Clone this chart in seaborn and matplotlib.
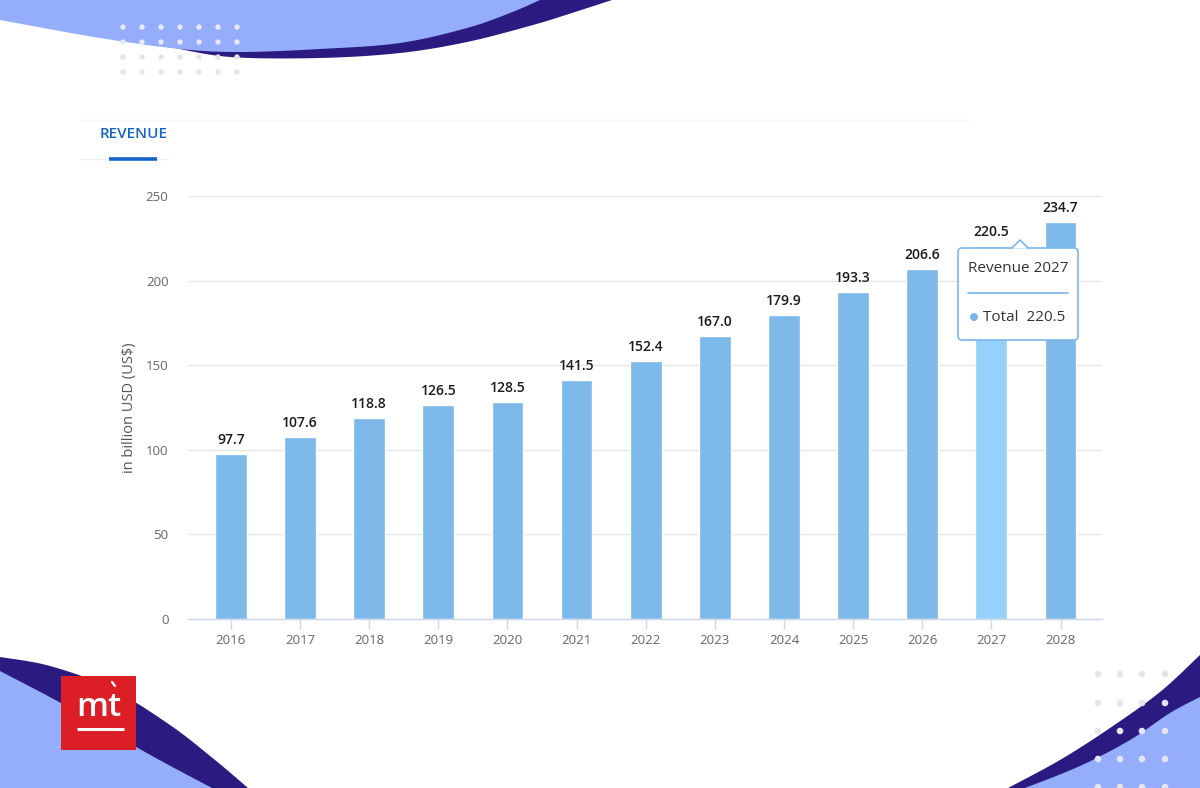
import numpy as np
import pandas as pd
import matplotlib
matplotlib.use("Agg")
import matplotlib.pyplot as plt
import seaborn as sns
from matplotlib.patches import Polygon, FancyBboxPatch, Rectangle, Circle

years = ["2016", "2017", "2018", "2019", "2020", "2021", "2022", "2023",
         "2024", "2025", "2026", "2027", "2028"]
revenue = [97.7, 107.6, 118.8, 126.5, 128.5, 141.5, 152.4, 167.0,
           179.9, 193.3, 206.6, 220.5, 234.7]
highlight_year = "2027"
y_ticks = [0, 50, 100, 150, 200, 250]
y_label = "in billion USD (US$)"
tab_title = "REVENUE"
tooltip_title = "Revenue 2027"
tooltip_series = "Total"

sns.set_theme(style="white")
plt.rcParams['font.family'] = ['Open Sans', 'DejaVu Sans']

W, H = 1200, 788
fig = plt.figure(figsize=(12, 7.88), dpi=100)
fig.patch.set_facecolor("white")

bg = fig.add_axes([0, 0, 1, 1], zorder=0)
bg.set_xlim(0, W)
bg.set_ylim(H, 0)
bg.axis("off")

LIGHT = "#94aefb"
NAVY = "#2b1a80"
DOT = "#e3e4ee"


def catmull(pts, n=20):
    p = np.array(pts, float)
    p = np.vstack([p[0], p, p[-1]])
    out = []
    for i in range(1, len(p) - 2):
        p0, p1, p2, p3 = p[i - 1], p[i], p[i + 1], p[i + 2]
        for t in np.linspace(0, 1, n, endpoint=False):
            t2, t3 = t * t, t * t * t
            out.append(0.5 * ((2 * p1) + (-p0 + p2) * t +
                              (2 * p0 - 5 * p1 + 4 * p2 - p3) * t2 +
                              (-p0 + 3 * p1 - 3 * p2 + p3) * t3))
    out.append(p[-2])
    return np.array(out)


def shape(edge, corners):
    curve = catmull(edge)
    return np.vstack([curve, np.array(corners, float)])


# top wave
navy_edge = [(170, 47), (230, 57), (320, 58), (400, 53), (467, 42), (533, 25), (575, 12), (612, 0)]
bg.add_patch(Polygon(shape(navy_edge, [(170, 0)]), closed=True, color=NAVY, lw=0))
light_edge = [(0, 20), (100, 38), (180, 49), (240, 52), (320, 49), (400, 43), (467, 28), (510, 13), (540, 0)]
bg.add_patch(Polygon(shape(light_edge, [(0, 0)]), closed=True, color=LIGHT, lw=0))
for r, yy in enumerate([27, 42, 57, 72]):
    for c in range(7):
        xx = 123 + c * 19
        bg.add_patch(Circle((xx, yy), 2.7, color="#e6e8f4" if r < 2 else DOT, lw=0))

# bottom-left wave
navy_bl = [(0, 657), (50, 666), (110, 688), (170, 725), (215, 760), (248, 788)]
bg.add_patch(Polygon(shape(navy_bl, [(0, 788)]), closed=True, color=NAVY, lw=0))
light_bl = [(0, 671), (70, 708), (145, 752), (212, 788)]
bg.add_patch(Polygon(shape(light_bl, [(0, 788)]), closed=True, color=LIGHT, lw=0))
# logo
bg.add_patch(Rectangle((61, 676), 75, 74, color="#dc1f26", lw=0))
bg.text(98.5, 708, "mt", color="white", fontsize=24, fontweight="semibold",
        ha="center", va="center")
bg.plot([112, 115], [682, 686], color="white", lw=1.6, solid_capstyle="round")
bg.plot([77, 124], [729, 729], color="white", lw=2.2, solid_capstyle="butt")

# bottom-right wave
navy_br = [(1008, 788), (1060, 760), (1110, 728), (1160, 692), (1200, 655)]
bg.add_patch(Polygon(shape(navy_br, [(1200, 788)]), closed=True, color=NAVY, lw=0))
light_br = [(1025, 788), (1080, 766), (1130, 740), (1170, 713), (1200, 697)]
bg.add_patch(Polygon(shape(light_br, [(1200, 788)]), closed=True, color=LIGHT, lw=0))
for yy in [674, 703, 731, 759, 787]:
    for xx in [1098, 1120, 1142, 1165]:
        bg.add_patch(Circle((xx, yy), 3.3, color=DOT, lw=0))

# tab header
bg.plot([80, 970], [120, 120], color="#f5f6fa", lw=1)
bg.text(134, 134, tab_title, color="#1565c8", fontsize=11, fontweight="semibold",
        ha="center", va="center")
bg.plot([80, 168], [159, 159], color="#eef0f6", lw=1)
bg.plot([109, 157], [159, 159], color="#1565c8", lw=2.6, solid_capstyle="butt")

# chart
ax = fig.add_axes([188 / W, 1 - 619 / H, (1102 - 188) / W, (619 - 196) / H], zorder=1)
ax.patch.set_alpha(0)
df = pd.DataFrame({"year": years, "revenue": revenue})
palette = {y: ("#96d0fc" if y == highlight_year else "#7cb8e8") for y in years}
sns.barplot(data=df, x="year", y="revenue", hue="year", palette=palette,
            legend=False, width=0.46, ax=ax, saturation=1, zorder=2)
ax.set_xlim(-0.62, 12.6)
ax.set_ylim(0, 250)
ax.set_yticks(y_ticks)
ax.grid(axis="y", color="#e6e6e6", lw=1, zorder=0)
ax.set_axisbelow(True)
for s in ["top", "right", "left"]:
    ax.spines[s].set_visible(False)
ax.spines["bottom"].set_color("#ccd6eb")
ax.spines["bottom"].set_linewidth(1)
ax.tick_params(axis="x", colors="#ccd6eb", length=7, width=1, labelcolor="#666666",
               labelsize=9.5, pad=4, bottom=True)
ax.tick_params(axis="y", length=0, labelcolor="#666666", labelsize=9.5, pad=14)
ax.set_xlabel("")
ax.set_ylabel(y_label, color="#555555", fontsize=10.5, labelpad=6)
for i, v in enumerate(revenue):
    ax.annotate(f"{v:.1f}", (i, v), xytext=(0, 5), textcoords="offset points",
                ha="center", va="bottom", fontsize=10, fontweight="semibold", color="#1a1a1a")

# tooltip overlay
tt = fig.add_axes([0, 0, 1, 1], zorder=3)
tt.set_xlim(0, W)
tt.set_ylim(H, 0)
tt.axis("off")
tt.add_patch(FancyBboxPatch((958, 248), 120, 92, boxstyle="round,pad=0,rounding_size=4",
                            fc="white", ec="#7cb5ec", lw=1.2))
tt.add_patch(Polygon([(1012, 248.6), (1020, 240), (1028, 248.6)], closed=True,
                     fc="white", ec="none"))
tt.plot([1012, 1020, 1028], [248, 240, 248], color="#7cb5ec", lw=1.2)
tt.text(968, 269, tooltip_title, fontsize=11, color="#333333", va="center", ha="left")
tt.plot([968, 1068], [293, 293], color="#7cb5ec", lw=1.2)
tt.add_patch(Circle((974, 317), 4, color="#7cb5ec", lw=0))
tt.text(983, 317, f"{tooltip_series}  {revenue[years.index(highlight_year)]:.1f}",
        fontsize=11, color="#333333", va="center", ha="left")

fig.savefig("out.png", dpi=100, facecolor="white")
